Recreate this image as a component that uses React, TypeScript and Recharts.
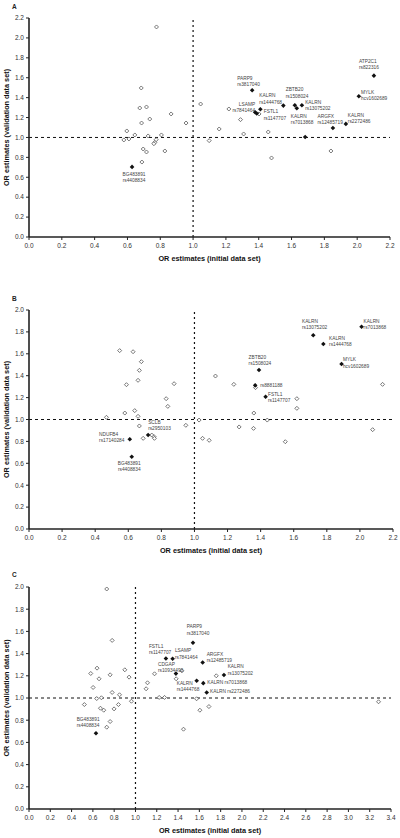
import { ScatterChart, Scatter, XAxis, YAxis, ReferenceLine } from 'recharts'

type Pt = { x: number; y: number }
type Marked = Pt & { gene: string; snp: string }

// tick labels
const TICKS_0_22 = [0, 0.2, 0.4, 0.6, 0.8, 1.0, 1.2, 1.4, 1.6, 1.8, 2.0, 2.2]
const TICKS_0_20 = [0, 0.2, 0.4, 0.6, 0.8, 1.0, 1.2, 1.4, 1.6, 1.8, 2.0]
const TICKS_0_34 = [0, 0.2, 0.4, 0.6, 0.8, 1.0, 1.2, 1.4, 1.6, 1.8, 2.0, 2.2, 2.4, 2.6, 2.8, 3.0, 3.2, 3.4]

// panel A
const A_OPEN: Pt[] = [
  { x: 0.578, y: 0.975 }, { x: 0.596, y: 1.065 }, { x: 0.609, y: 0.985 }, { x: 0.645, y: 1.025 },
  { x: 0.684, y: 1.497 }, { x: 0.675, y: 1.296 }, { x: 0.686, y: 1.145 }, { x: 0.716, y: 1.306 },
  { x: 0.736, y: 1.185 }, { x: 0.726, y: 1.015 }, { x: 0.696, y: 0.884 }, { x: 0.716, y: 0.854 },
  { x: 0.688, y: 0.753 }, { x: 0.777, y: 2.11 }, { x: 0.767, y: 0.951 }, { x: 0.775, y: 0.978 },
  { x: 0.761, y: 0.937 }, { x: 0.807, y: 1.025 }, { x: 0.828, y: 0.864 }, { x: 0.866, y: 1.236 },
  { x: 0.957, y: 1.145 }, { x: 1.046, y: 1.336 }, { x: 1.098, y: 0.968 }, { x: 1.159, y: 1.085 },
  { x: 1.218, y: 1.286 }, { x: 1.289, y: 1.179 }, { x: 1.308, y: 1.035 }, { x: 1.402, y: 1.236 },
  { x: 1.458, y: 1.055 }, { x: 1.478, y: 0.794 }, { x: 1.84, y: 0.864 },
]
const A_MARKED: Marked[] = [
  { x: 0.628, y: 0.704, gene: 'BG483891', snp: 'rs4408834' },
  { x: 1.36, y: 1.474, gene: 'PARP9', snp: 'rs3817040' },
  { x: 1.378, y: 1.253, gene: 'LSAMP', snp: 'rs7841464' },
  { x: 1.388, y: 1.24, gene: 'FSTL1', snp: 'rs1147707' },
  { x: 1.41, y: 1.283, gene: 'KALRN', snp: 'rs1444768' },
  { x: 1.55, y: 1.32, gene: 'ZBTB20', snp: 'rs1508024' },
  { x: 1.62, y: 1.324, gene: '', snp: '' },
  { x: 1.632, y: 1.293, gene: 'KALRN', snp: 'rs7013868' },
  { x: 1.663, y: 1.324, gene: 'KALRN', snp: 'rs13075202' },
  { x: 1.683, y: 1.005, gene: '', snp: '' },
  { x: 1.852, y: 1.095, gene: 'ARGFX', snp: 'rs12485719' },
  { x: 1.931, y: 1.136, gene: 'KALRN', snp: 'rs2272486' },
  { x: 2.01, y: 1.414, gene: 'MYLK', snp: 'hcv1602689' },
  { x: 2.102, y: 1.621, gene: 'ATP2C1', snp: 'rs822316' },
]

// panel B
const B_OPEN: Pt[] = [
  { x: 0.548, y: 1.629 }, { x: 0.629, y: 1.619 }, { x: 0.679, y: 1.528 }, { x: 0.667, y: 1.449 },
  { x: 0.659, y: 1.358 }, { x: 0.589, y: 1.318 }, { x: 0.877, y: 1.327 }, { x: 0.829, y: 1.19 },
  { x: 0.839, y: 1.12 }, { x: 0.468, y: 1.02 }, { x: 0.579, y: 1.059 }, { x: 0.639, y: 1.081 },
  { x: 0.659, y: 1.029 }, { x: 0.667, y: 0.941 }, { x: 0.69, y: 0.828 }, { x: 0.742, y: 0.858 },
  { x: 0.756, y: 0.843 }, { x: 0.758, y: 0.828 }, { x: 0.948, y: 0.947 }, { x: 1.028, y: 0.995 },
  { x: 1.049, y: 0.828 }, { x: 1.089, y: 0.81 }, { x: 1.127, y: 1.397 }, { x: 1.238, y: 1.321 },
  { x: 1.27, y: 0.932 }, { x: 1.357, y: 0.919 }, { x: 1.359, y: 1.059 }, { x: 1.369, y: 1.291 },
  { x: 1.44, y: 0.995 }, { x: 1.549, y: 0.797 }, { x: 1.619, y: 1.19 }, { x: 1.619, y: 1.102 },
  { x: 2.077, y: 0.907 }, { x: 2.137, y: 1.321 },
]
const B_MARKED: Marked[] = [
  { x: 0.609, y: 0.819, gene: 'NDUFB4', snp: 'rs17140284' },
  { x: 0.72, y: 0.858, gene: 'SCLB', snp: 'rs2950103' },
  { x: 0.621, y: 0.66, gene: 'BG483891', snp: 'rs4408834' },
  { x: 1.367, y: 1.312, gene: '', snp: 'rs8881188' },
  { x: 1.39, y: 1.452, gene: 'ZBTB20', snp: 'rs1508024' },
  { x: 1.43, y: 1.208, gene: 'FSTL1', snp: 'rs1147707' },
  { x: 1.718, y: 1.769, gene: 'KALRN', snp: 'rs13075202' },
  { x: 1.779, y: 1.689, gene: 'KALRN', snp: 'rs1444768' },
  { x: 1.889, y: 1.507, gene: 'MYLK', snp: 'hcv1602689' },
  { x: 2.01, y: 1.847, gene: 'KALRN', snp: 'rs7013868' },
]

// panel C
const C_OPEN: Pt[] = [
  { x: 0.73, y: 1.982 }, { x: 0.781, y: 1.519 }, { x: 0.58, y: 1.221 }, { x: 0.639, y: 1.269 },
  { x: 0.658, y: 1.173 }, { x: 0.602, y: 1.095 }, { x: 0.762, y: 1.209 }, { x: 0.9, y: 1.254 },
  { x: 0.94, y: 1.188 }, { x: 0.781, y: 1.05 }, { x: 0.85, y: 1.029 }, { x: 0.52, y: 0.941 },
  { x: 0.636, y: 0.995 }, { x: 0.68, y: 1.002 }, { x: 0.671, y: 0.908 }, { x: 0.702, y: 0.89 },
  { x: 0.799, y: 0.902 }, { x: 0.84, y: 0.941 }, { x: 0.962, y: 0.971 }, { x: 0.762, y: 0.788 },
  { x: 0.73, y: 0.737 }, { x: 1.1, y: 1.083 }, { x: 1.113, y: 1.137 }, { x: 1.179, y: 1.218 },
  { x: 1.223, y: 1.005 }, { x: 1.273, y: 1.005 }, { x: 1.382, y: 1.173 }, { x: 1.436, y: 1.245 },
  { x: 1.451, y: 0.719 }, { x: 1.574, y: 0.993 }, { x: 1.605, y: 0.89 }, { x: 1.69, y: 0.923 },
  { x: 1.759, y: 1.2 }, { x: 3.283, y: 0.966 },
]
const C_MARKED: Marked[] = [
  { x: 0.629, y: 0.683, gene: 'BG483891', snp: 'rs4408834' },
  { x: 1.286, y: 1.356, gene: 'FSTL1', snp: 'rs1147707' },
  { x: 1.349, y: 1.354, gene: 'LSAMP', snp: 'rs7841464' },
  { x: 1.38, y: 1.22, gene: 'CDGAP', snp: 'rs10934490' },
  { x: 1.54, y: 1.498, gene: 'PARP9', snp: 'rs3817040' },
  { x: 1.575, y: 1.155, gene: 'KALRN', snp: 'rs1444768' },
  { x: 1.631, y: 1.32, gene: 'ARGFX', snp: 'rs12485719' },
  { x: 1.637, y: 1.134, gene: 'KALRN', snp: 'rs7013868' },
  { x: 1.669, y: 1.05, gene: 'KALRN', snp: 'rs2272486' },
  { x: 1.831, y: 1.207, gene: 'KALRN', snp: 'rs13075202' },
]

// label placement: [dx, dy of first line, anchor, one line?]
type Pos = [number, number, 'start' | 'middle' | 'end', boolean?]
const A_POS: Record<string, Pos> = {
  rs4408834: [2, 7, 'middle'],
  rs3817040: [-15, -12.6, 'start'],
  rs7841464: [0, -8.3, 'end'],
  rs1444768: [-1, -14, 'start'],
  rs1147707: [7, -2.3, 'start'],
  rs1508024: [2.4, -16.4, 'start'],
  rs7013868: [-6, 7.7, 'start'],
  rs13075202: [3.3, -3.6, 'start'],
  rs12485719: [-15.4, -12, 'start'],
  rs2272486: [2, -9, 'start'],
  hcv1602689: [2.3, -4.6, 'start'],
  rs822316: [-15, -14.7, 'start'],
}
const B_POS: Record<string, Pos> = {
  rs17140284: [-30.7, -5.6, 'start'],
  rs2950103: [0, -13.3, 'start'],
  rs4408834: [-2.5, 6, 'middle'],
  rs8881188: [5, -0.6, 'start'],
  rs1508024: [-10.4, -13, 'start'],
  rs1147707: [2.4, -2.7, 'start'],
  rs13075202: [-11.3, -14.3, 'start'],
  rs1444768: [5.7, -6.3, 'start'],
  hcv1602689: [1.4, -4.7, 'start'],
  rs7013868: [2, -6, 'start'],
}
const C_POS: Record<string, Pos> = {
  rs4408834: [-19.3, -14, 'start'],
  rs1147707: [-17, -12.7, 'start'],
  rs7841464: [2.3, -8.5, 'start'],
  rs10934490: [-18, -9.5, 'start'],
  rs3817040: [-6.3, -16.3, 'start'],
  rs1444768: [-20, 2.3, 'start'],
  rs12485719: [4, -8.4, 'start'],
  rs7013868: [4, -1, 'start', true],
  rs2272486: [3.3, -1, 'start', true],
  rs13075202: [3.7, -8.6, 'start'],
}

const FONT = '"Liberation Sans", Arial, sans-serif'
const LINE = 6.3

function OpenDiamond(props: any) {
  const { cx, cy } = props
  if (cx == null || cy == null) return null
  const r = 2
  return (
    <path
      d={`M${cx},${cy - r}L${cx + r},${cy}L${cx},${cy + r}L${cx - r},${cy}Z`}
      fill="#fff"
      stroke="#555"
      strokeWidth={0.8}
    />
  )
}

function markedShape(pos: Record<string, Pos>) {
  return (props: any) => {
    const { cx, cy, payload } = props
    if (cx == null || cy == null) return null
    const r = 2.3
    const p = pos[payload.snp]
    const textProps = {
      fontSize: 4.8,
      fill: '#444',
      fontFamily: FONT,
      dominantBaseline: 'central' as const,
    }
    let label = null
    if (p && payload.snp) {
      const [dx, dy, anchor, inline] = p
      const lines = inline || !payload.gene ? [payload.gene ? `${payload.gene} ${payload.snp}` : payload.snp] : [payload.gene, payload.snp]
      label = (
        <text x={cx + dx} y={cy + dy} textAnchor={anchor} {...textProps}>
          {lines.map((l: string, i: number) => (
            <tspan key={i} x={cx + dx} y={cy + dy + i * LINE}>
              {l}
            </tspan>
          ))}
        </text>
      )
    }
    return (
      <g>
        <path d={`M${cx},${cy - r}L${cx + r},${cy}L${cx},${cy + r}L${cx - r},${cy}Z`} fill="#111" />
        {label}
      </g>
    )
  }
}

const tickStyle = { fill: '#333', fontSize: 6.5, fontFamily: FONT }
const titleStyle = { fill: '#111', fontSize: 7.3, fontWeight: 'bold', fontFamily: FONT, textAnchor: 'middle' as const }

function Panel({
  letter,
  top,
  height,
  margin,
  xMax,
  yMax,
  xTicks,
  yTicks,
  open,
  marked,
  pos,
}: {
  letter: string
  top: number
  height: number
  margin: { top: number; right: number; bottom: number; left: number }
  xMax: number
  yMax: number
  xTicks: number[]
  yTicks: number[]
  open: Pt[]
  marked: Marked[]
  pos: Record<string, Pos>
}) {
  return (
    <div style={{ position: 'absolute', left: 0, top, width: 400, height }}>
      <div
        style={{
          position: 'absolute',
          left: 12,
          top: letter === 'A' ? 3 : letter === 'B' ? 15 : 11,
          fontSize: 6.5,
          fontWeight: 'bold',
          fontFamily: FONT,
          color: '#222',
        }}
      >
        {letter}
      </div>
      <ScatterChart width={400} height={height} margin={margin}>
        <XAxis
          type="number"
          dataKey="x"
          domain={[0, xMax]}
          ticks={xTicks}
          interval={0}
          tickFormatter={(v: number) => v.toFixed(1)}
          tick={tickStyle}
          tickSize={3}
          tickMargin={3}
          height={20}
          axisLine={{ stroke: '#222', strokeWidth: 1.3 }}
          tickLine={{ stroke: '#222' }}
          label={{ value: 'OR estimates (initial data set)', position: 'insideBottom', offset: -4, style: titleStyle }}
        />
        <YAxis
          type="number"
          dataKey="y"
          domain={[0, yMax]}
          ticks={yTicks}
          interval={0}
          tickFormatter={(v: number) => v.toFixed(1)}
          tick={tickStyle}
          tickSize={3}
          tickMargin={2}
          width={29}
          axisLine={{ stroke: '#222', strokeWidth: 1.6 }}
          tickLine={{ stroke: '#222' }}
          label={{ value: 'OR estimates (validation data set)', angle: -90, position: 'insideLeft', offset: 6, style: titleStyle }}
        />
        <ReferenceLine y={1} stroke="#111" strokeWidth={1} strokeDasharray="3 3" />
        <ReferenceLine x={1} stroke="#111" strokeWidth={1.2} strokeDasharray="2 3" />
        <Scatter data={open} shape={OpenDiamond} isAnimationActive={false} />
        <Scatter data={marked} shape={markedShape(pos)} isAnimationActive={false} />
      </ScatterChart>
    </div>
  )
}

export default function App() {
  return (
    <div style={{ position: 'absolute', left: 0, top: 0, width: 400, height: 838, background: '#fff', fontFamily: FONT }}>
      <Panel
        letter="A"
        top={0}
        height={280}
        margin={{ top: 18, right: 10, bottom: 23, left: 0 }}
        xMax={2.2}
        yMax={2.2}
        xTicks={TICKS_0_22}
        yTicks={TICKS_0_22}
        open={A_OPEN}
        marked={A_MARKED}
        pos={A_POS}
      />
      <Panel
        letter="B"
        top={280}
        height={280}
        margin={{ top: 30, right: 7, bottom: 11, left: 0 }}
        xMax={2.2}
        yMax={2.0}
        xTicks={TICKS_0_22}
        yTicks={TICKS_0_20}
        open={B_OPEN}
        marked={B_MARKED}
        pos={B_POS}
      />
      <Panel
        letter="C"
        top={560}
        height={278}
        margin={{ top: 27, right: 9, bottom: 9, left: 0 }}
        xMax={3.4}
        yMax={2.0}
        xTicks={TICKS_0_34}
        yTicks={TICKS_0_20}
        open={C_OPEN}
        marked={C_MARKED}
        pos={C_POS}
      />
    </div>
  )
}
